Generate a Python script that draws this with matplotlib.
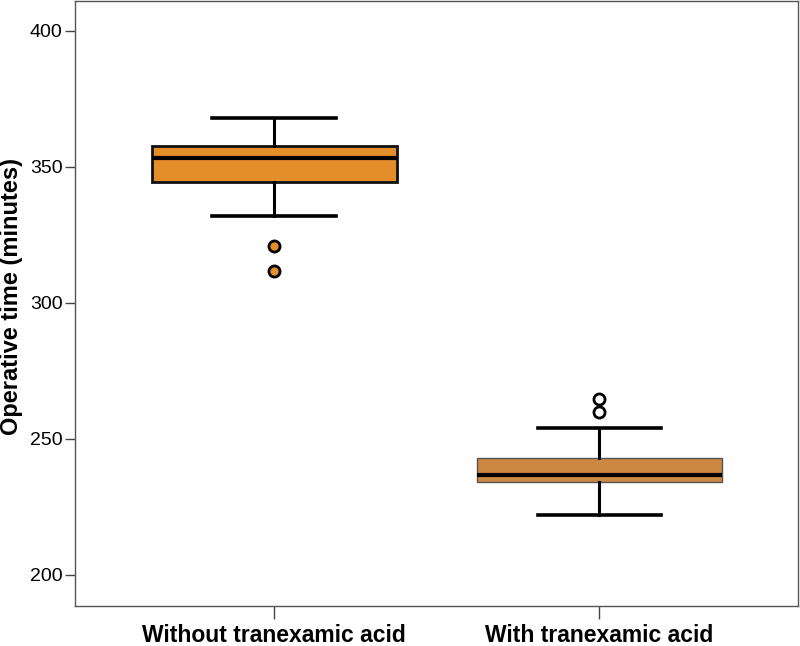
import matplotlib
matplotlib.use("Agg")
import matplotlib.pyplot as plt

# values
groups = ["Without tranexamic acid", "With tranexamic acid"]
q1 = [344.6, 234.0]
median = [353.4, 236.9]
q3 = [357.8, 243.0]
whisker_low = [332.0, 222.1]
whisker_high = [367.9, 254.0]
outliers = [[321.0, 311.9], [264.8, 260.0]]

box_colors = ["#E38D2B", "#CC8740"]
box_edges = ["#111111", "#555555"]
box_edge_widths = [2.0, 1.0]
flier_faces = ["#E38D2B", "white"]

plt.rcParams["font.family"] = ["Liberation Sans", "DejaVu Sans"]

fig = plt.figure(figsize=(8.0, 6.46), dpi=100)
ax = fig.add_axes([0.094, 0.0624, 0.904, 0.936])

stats = []
for i, name in enumerate(groups):
    stats.append({"label": name, "q1": q1[i], "med": median[i], "q3": q3[i],
                  "whislo": whisker_low[i], "whishi": whisker_high[i],
                  "fliers": outliers[i]})

parts = ax.bxp(stats, positions=[0, 1], widths=0.754, patch_artist=True,
               showfliers=True)

for i in range(len(groups)):
    box = parts["boxes"][i]
    box.set_facecolor(box_colors[i])
    box.set_edgecolor(box_edges[i])
    box.set_linewidth(box_edge_widths[i])
    parts["medians"][i].set(color="black", linewidth=3.0)
    for w in parts["whiskers"][2 * i:2 * i + 2]:
        w.set(color="black", linewidth=2.2)
    for c in parts["caps"][2 * i:2 * i + 2]:
        c.set(color="black", linewidth=2.6)
        xd = c.get_xdata()
        mid = (xd[0] + xd[1]) / 2
        c.set_xdata([mid - 0.19, mid + 0.19])
    parts["fliers"][i].set(marker="o", markersize=8, markerfacecolor=flier_faces[i],
                           markeredgecolor="black", markeredgewidth=2.0)

ax.set_xlim(-0.612, 1.612)
ax.set_ylim(188.7, 411)
ax.set_yticks([200, 250, 300, 350, 400])
ax.set_xticks([0, 1])
ax.set_xticklabels(groups, fontsize=16.5, fontweight="bold")
ax.tick_params(axis="y", labelsize=14, length=7, width=1, color="#444444", pad=2)
ax.tick_params(axis="x", length=9, width=1, color="#444444", pad=4)
ax.set_ylabel("Operative time (minutes)", fontsize=17, fontweight="bold")
ax.yaxis.set_label_coords(-0.072, 0.512)

for s in ax.spines.values():
    s.set_color("#555555")
    s.set_linewidth(1.0)

fig.savefig("out.png", dpi=100)
